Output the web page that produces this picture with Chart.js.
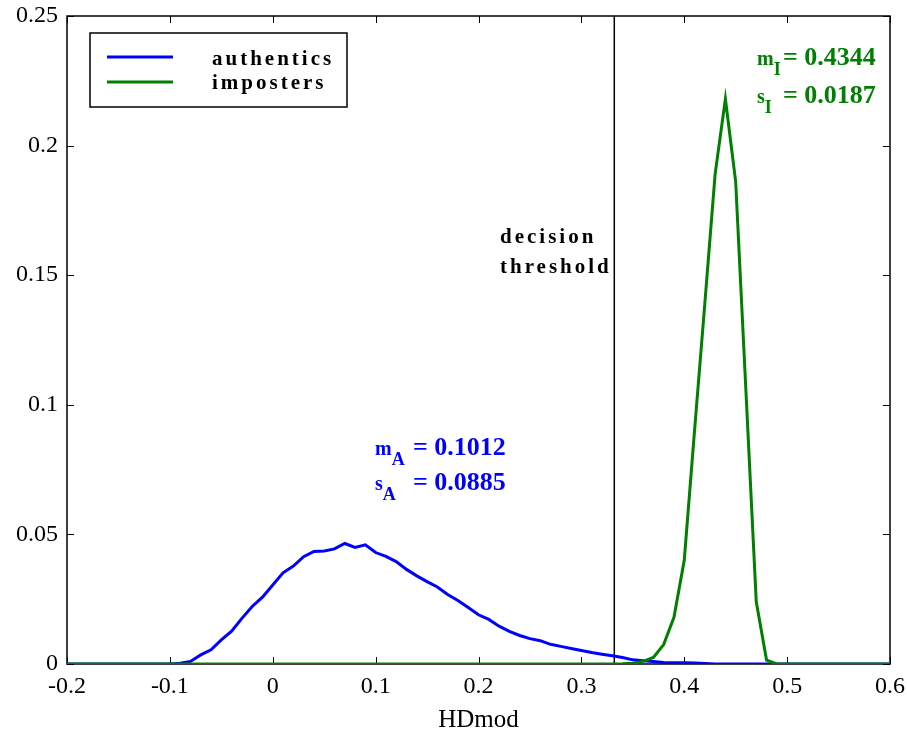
<!DOCTYPE html>
<html>
<head>
<meta charset="utf-8">
<script src="https://cdn.jsdelivr.net/npm/chart.js@4.4.1/dist/chart.umd.min.js"></script>
<style>
  body { margin: 0; background: #fff; }
</style>
</head>
<body>
<canvas id="c" width="907" height="730"></canvas>
<script>
// authentics curve (HDmod value, relative frequency)
var authX = [-0.2, -0.1, -0.09, -0.08, -0.07, -0.06, -0.05, -0.04, -0.03, -0.02, -0.01,
    0.0, 0.01, 0.02, 0.03, 0.04, 0.05, 0.06, 0.07, 0.08, 0.09,
    0.10, 0.11, 0.12, 0.13, 0.14, 0.15, 0.16, 0.17, 0.18, 0.19,
    0.20, 0.21, 0.22, 0.23, 0.24, 0.25, 0.26, 0.27, 0.28, 0.29,
    0.30, 0.31, 0.32, 0.33, 0.34, 0.35, 0.36, 0.37, 0.38, 0.39,
    0.40, 0.41, 0.42, 0.43, 0.6]
var authY = [0, 0, 0.0003, 0.001, 0.0035, 0.0055, 0.0093, 0.0127, 0.0176, 0.0222, 0.0258,
    0.0305, 0.0352, 0.0378, 0.0414, 0.0434, 0.0436, 0.0444, 0.0465, 0.045, 0.046,
    0.043, 0.0415, 0.0395, 0.0365, 0.034, 0.0318, 0.0297, 0.0268, 0.0245, 0.0218,
    0.019, 0.0172, 0.0146, 0.0126, 0.011, 0.0098, 0.009, 0.0076, 0.0068, 0.006,
    0.0052, 0.0044, 0.0038, 0.0032, 0.0025, 0.0016, 0.0013, 0.001, 0.0006, 0.0005,
    0.0005, 0.0004, 0.0002, 0, 0]

// imposters curve
var impX = [-0.2, 0.33, 0.34, 0.35, 0.36, 0.37, 0.38, 0.39, 0.40, 0.41, 0.42,
    0.43, 0.44, 0.45, 0.46, 0.47, 0.48, 0.49, 0.6]
var impY = [0, 0, 0.0001, 0.0003, 0.001, 0.0025, 0.0075, 0.018, 0.04, 0.09, 0.139,
    0.189, 0.218, 0.186, 0.105, 0.024, 0.0015, 0, 0]

var threshold = 0.332
var xTicks = [-0.2, -0.1, 0, 0.1, 0.2, 0.3, 0.4, 0.5, 0.6]
var yTicks = [0, 0.05, 0.1, 0.15, 0.2, 0.25]

var blue = '#0000ff'
var green = '#008000'
var serif = '"Liberation Serif", "Times New Roman", serif'

function pts(xs, ys) {
    return xs.map(function (x, i) { return { x: x, y: ys[i] } })
}

// symbol with subscript, then the "= value" part at restX
function subText(ctx, main, sub, rest, x, y, restX, color) {
    ctx.fillStyle = color
    ctx.font = 'bold 20px ' + serif
    ctx.fillText(main, x, y)
    var w = ctx.measureText(main).width
    ctx.font = 'bold 18px ' + serif
    ctx.fillText(sub, x + w, y + 10)
    ctx.font = 'bold 26px ' + serif
    ctx.fillText(rest, restX, y)
}

var framePlugin = {
    id: 'frame',
    beforeDatasetsDraw: function (chart) {
        var ctx = chart.ctx, a = chart.chartArea
        var xs = chart.scales.x, ys = chart.scales.y
        ctx.save()
        ctx.strokeStyle = '#000'
        ctx.lineWidth = 1
        ctx.beginPath()
        xTicks.forEach(function (t) {
            var px = Math.round(xs.getPixelForValue(t)) + 0.5
            ctx.moveTo(px, a.bottom); ctx.lineTo(px, a.bottom - 7)
            ctx.moveTo(px, a.top); ctx.lineTo(px, a.top + 7)
        })
        yTicks.forEach(function (t) {
            var py = Math.round(ys.getPixelForValue(t)) + 0.5
            ctx.moveTo(a.left, py); ctx.lineTo(a.left + 7, py)
            ctx.moveTo(a.right, py); ctx.lineTo(a.right - 7, py)
        })
        ctx.stroke()
        ctx.lineWidth = 1.5
        ctx.strokeRect(a.left, a.top, a.right - a.left, a.bottom - a.top)
        ctx.restore()
    },
    afterDraw: function (chart) {
        var ctx = chart.ctx, a = chart.chartArea
        ctx.save()
        // legend box
        var lx = a.left + 23, ly = a.top + 17
        ctx.fillStyle = '#fff'
        ctx.fillRect(lx, ly, 257, 74)
        ctx.strokeStyle = '#000'
        ctx.lineWidth = 1.5
        ctx.strokeRect(lx, ly, 257, 74)
        ctx.lineWidth = 3
        ctx.strokeStyle = blue
        ctx.beginPath(); ctx.moveTo(lx + 17, ly + 24); ctx.lineTo(lx + 83, ly + 24); ctx.stroke()
        ctx.strokeStyle = green
        ctx.beginPath(); ctx.moveTo(lx + 17, ly + 49); ctx.lineTo(lx + 83, ly + 49); ctx.stroke()
        ctx.fillStyle = '#000'
        ctx.font = 'bold 21px ' + serif
        ctx.letterSpacing = '3px'
        ctx.textBaseline = 'alphabetic'
        ctx.fillText('authentics', lx + 122, ly + 32)
        ctx.fillText('imposters', lx + 122, ly + 56)
        // threshold label
        ctx.fillText('decision', 500, 243)
        ctx.fillText('threshold', 500, 273)
        ctx.letterSpacing = '0px'
        // statistics
        subText(ctx, 'm', 'A', '= 0.1012', 375, 455, 413, blue)
        subText(ctx, 's', 'A', '= 0.0885', 375, 490, 413, blue)
        subText(ctx, 'm', 'I', '= 0.4344', 757, 65, 783, green)
        subText(ctx, 's', 'I', '= 0.0187', 757, 103, 783, green)
        ctx.restore()
    }
}

new Chart(document.getElementById('c').getContext('2d'), {
    type: 'line',
    data: {
        datasets: [{
            label: 'authentics',
            data: pts(authX, authY),
            borderColor: blue,
            borderWidth: 3,
            order: 2
        }, {
            label: 'imposters',
            data: pts(impX, impY),
            borderColor: green,
            borderWidth: 3,
            order: 1
        }, {
            label: 'threshold',
            data: [{ x: threshold, y: 0 }, { x: threshold, y: 0.25 }],
            borderColor: '#000',
            borderWidth: 1.5,
            order: 3
        }]
    },
    options: {
        responsive: false,
        animation: false,
        layout: { padding: { top: 16, right: 17, left: 0, bottom: 0 } },
        elements: { point: { radius: 0 }, line: { tension: 0 } },
        plugins: {
            legend: { display: false },
            tooltip: { enabled: false }
        },
        scales: {
            x: {
                type: 'linear',
                min: -0.2,
                max: 0.6,
                grid: { display: false, drawTicks: false },
                border: { display: false },
                afterBuildTicks: function (s) { s.ticks = xTicks.map(function (v) { return { value: v } }) },
                afterFit: function (s) { s.height = 66; s.paddingLeft = 0; s.paddingRight = 0 },
                ticks: {
                    color: '#000',
                    padding: 8,
                    maxRotation: 0,
                    font: { family: serif, size: 24 },
                    callback: function (v) { return String(Number(v.toFixed(1))) }
                },
                title: {
                    display: true,
                    text: 'HDmod',
                    color: '#000',
                    font: { family: serif, size: 25, lineHeight: 0.8 },
                    padding: { top: 0, bottom: 0 }
                }
            },
            y: {
                min: 0,
                max: 0.25,
                grid: { display: false, drawTicks: false },
                border: { display: false },
                afterBuildTicks: function (s) { s.ticks = yTicks.map(function (v) { return { value: v } }) },
                afterFit: function (s) { s.width = 67; s.paddingTop = 0; s.paddingBottom = 0 },
                ticks: {
                    color: '#000',
                    padding: 9,
                    font: { family: serif, size: 24 },
                    callback: function (v) { return String(Number(v.toFixed(2))) }
                }
            }
        }
    },
    plugins: [framePlugin]
})
</script>
</body>
</html>
